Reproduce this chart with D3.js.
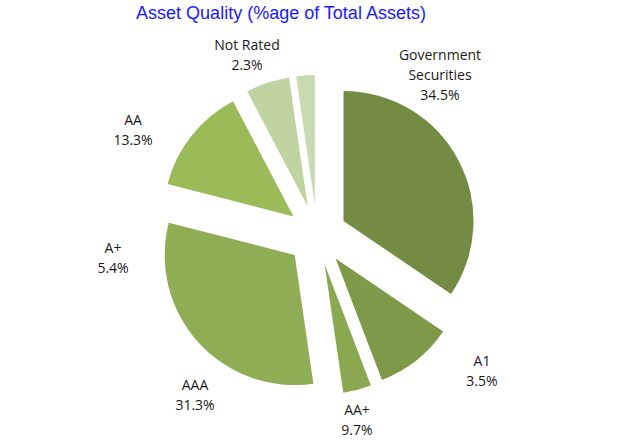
<!DOCTYPE html>
<html>
<head>
<meta charset="utf-8">
<script src="https://cdn.jsdelivr.net/npm/d3@7"></script>
<style>
  html, body { margin: 0; padding: 0; background: #fff; }
  svg { display: block; }
</style>
</head>
<body>
<svg id="chart"></svg>
<script>
// Slice values in drawing order (clockwise from 12 o'clock), % of total assets
const sliceValues = [34.5, 9.7, 3.5, 31.3, 13.3, 5.4, 2.3];
const sliceColors = ['#738b42', '#7e9a48', '#89a84f', '#8fad55', '#9bbb59', '#bfd3a0', '#c9d9b2'];

// Data labels as printed on the chart
const labelNames = [['Government', 'Securities'], ['A1'], ['AA+'], ['AAA'], ['A+'], ['AA'], ['Not Rated']];
const labelPcts = ['34.5%', '3.5%', '9.7%', '31.3%', '5.4%', '13.3%', '2.3%'];
// label anchor (centre of first line baseline) relative to pie centre
const labelOffsets = [[123, -175], [165, 131], [40, 180], [-122, 155], [-204, 18], [-184, -110], [-70, -185]];

const width = 637, height = 444;
const cx = 317, cy = 235;
const radius = 130;
const explode = 30;

const svg = d3.select('#chart').attr('width', width).attr('height', height);

svg.append('text')
  .attr('x', 281)
  .attr('y', 19)
  .attr('text-anchor', 'middle')
  .attr('font-family', '"Liberation Sans", Arial, sans-serif')
  .attr('font-size', 18)
  .attr('fill', '#1a1aff')
  .text('Asset Quality (%age of Total Assets)');

const pie = d3.pie().sort(null).value(d => d);
const arcs = pie(sliceValues);
const arc = d3.arc().innerRadius(0).outerRadius(radius);

const g = svg.append('g').attr('transform', `translate(${cx},${cy})`);

g.selectAll('path')
  .data(arcs)
  .enter()
  .append('path')
  .attr('d', arc)
  .attr('fill', (d, i) => sliceColors[i])
  .attr('transform', d => {
    const mid = (d.startAngle + d.endAngle) / 2;
    return `translate(${Math.sin(mid) * explode},${-Math.cos(mid) * explode})`;
  });

// labels
const lineH = 20;
labelNames.forEach((lines, i) => {
  const [dx, dy] = labelOffsets[i];
  const t = g.append('text')
    .attr('text-anchor', 'middle')
    .attr('font-family', '"Open Sans", "DejaVu Sans", sans-serif')
    .attr('font-size', 14)
    .attr('fill', '#1a1a1a');
  lines.concat([labelPcts[i]]).forEach((s, k) => {
    t.append('tspan')
      .attr('x', dx)
      .attr('y', dy + k * lineH)
      .text(s);
  });
});
</script>
</body>
</html>
